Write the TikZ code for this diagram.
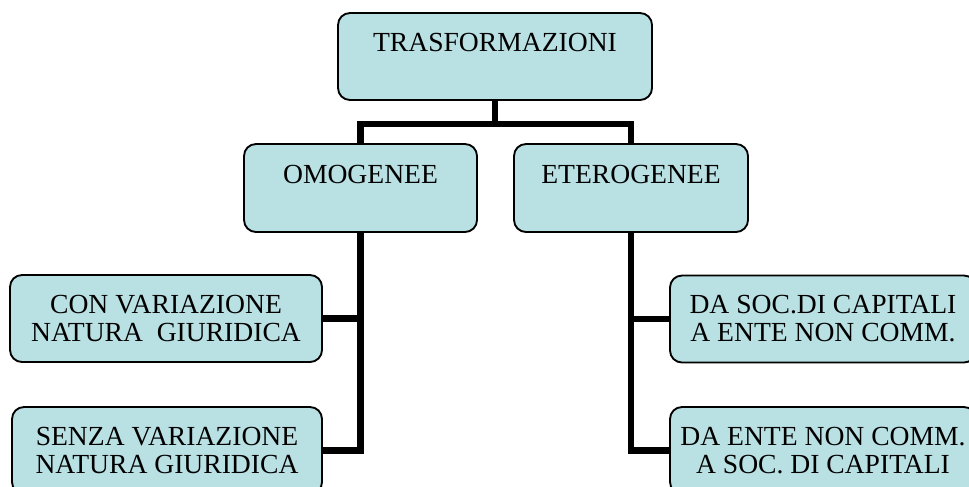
\documentclass[tikz,border=0pt]{standalone}
\usepackage{fontspec}
\setmainfont{Liberation Serif}
\usepackage{xcolor}
\usetikzlibrary{positioning, calc}

\definecolor{boxblue}{RGB}{185,224,227}

\begin{document}
\begin{tikzpicture}[x=0.75pt, y=-0.75pt]

\tikzstyle{tbox}=[draw=black, line width=1.4pt, rounded corners=9pt, fill=boxblue, align=center, inner sep=0pt, font=\fontsize{20.7}{21}\selectfont]
\tikzstyle{tline}=[line width=5pt, draw=black, line join=miter]

\useasboundingbox (0,0) rectangle (969,486);
\clip (0,0) rectangle (969,486);

\node (t01) at (495,56.5) [tbox, minimum width=314*0.75pt, minimum height=87*0.75pt] {TRASFORMAZIONI\\\mbox{}};

\node (t11) at (360.5,188) [tbox, minimum width=233*0.75pt, minimum height=88*0.75pt] {OMOGENEE\\\mbox{}};
\node (t12) at (631,188) [tbox, minimum width=234*0.75pt, minimum height=88*0.75pt] {ETEROGENEE\\\mbox{}};

\node (t21) at (166,318.5) [tbox, minimum width=312*0.75pt, minimum height=87*0.75pt] {CON VARIAZIONE\\NATURA~ GIURIDICA};
\node (t22) at (167,450.5) [tbox, minimum width=310*0.75pt, minimum height=87*0.75pt] {SENZA VARIAZIONE\\NATURA GIURIDICA};

\node (t23) at (823,319) [tbox, minimum width=306*0.75pt, minimum height=87*0.75pt] {DA SOC.DI CAPITALI\\A ENTE NON COMM.};
\node (t24) at (823,450.5) [tbox, minimum width=306*0.75pt, minimum height=87*0.75pt] {DA ENTE NON COMM.\\A SOC. DI CAPITALI};

\coordinate (tbar) at ($(t01.south)+(0,23)$);

\draw [tline] (t01.south) -- (tbar);
\draw [tline] (t11.north) |- (tbar) -| (t12.north);

\draw [tline] (t21.east) -| (t11.south);
\draw [tline] (t22.east) -| (t11.south);

\draw [tline] (t23.west) -| (t12.south);
\draw [tline] (t24.west) -| (t12.south);

\end{tikzpicture}
\end{document}
